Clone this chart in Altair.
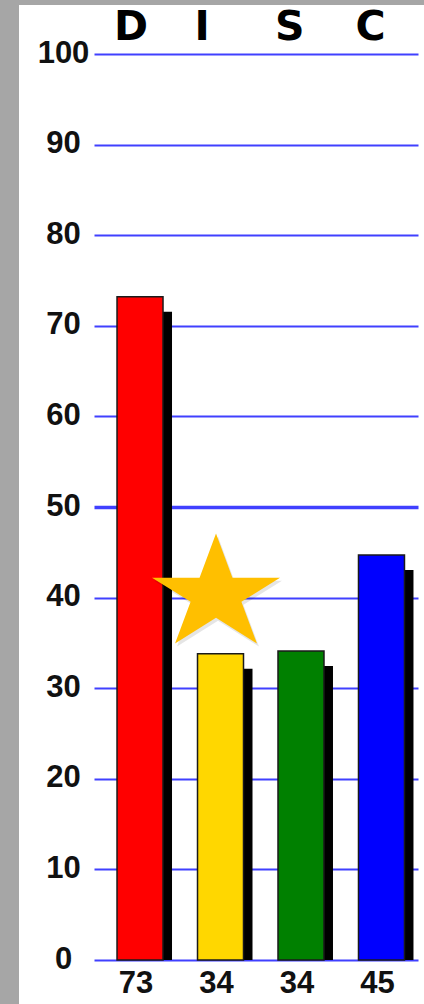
import altair as alt
import pandas as pd

# ---- data ----
categories = ["D", "I", "S", "C"]
bar_values = [73.2, 33.8, 34.1, 44.7]
bar_labels = ["73", "34", "34", "45"]
bar_colors = ["#ff0000", "#ffd700", "#008000", "#0000ff"]
grid_ticks = [0, 10, 20, 30, 40, 50, 60, 70, 80, 90, 100]
star_category = ["I"]
star_value = [41.0]

W, H = 324, 906

df = pd.DataFrame({"cat": categories, "value": bar_values, "label": bar_labels})
star_df = pd.DataFrame({"cat": star_category, "value": star_value})
one = pd.DataFrame({"a": [0]})

xscale = alt.Scale(domain=categories, paddingInner=0.4286, paddingOuter=0.227, align=0.63)
X = alt.X("cat:N", scale=xscale, axis=None, sort=categories)
Y = alt.Y(
    "value:Q",
    scale=alt.Scale(domain=[0, 100], nice=False),
    axis=alt.Axis(
        values=grid_ticks,
        grid=True,
        gridColor="#4040ff",
        gridWidth=alt.condition("datum.value == 50", alt.value(3.5), alt.value(2)),
        domain=False,
        ticks=False,
        tickSize=0,
        labelAlign="center",
        labelBaseline="middle",
        labelPadding=31,
        labelOffset=-1,
        labelFont="Liberation Sans",
        labelFontSize=31,
        labelFontWeight="bold",
        labelColor="#111111",
        title=None,
    ),
)

# grey frame strips (left and top)
frame_left = alt.Chart(one).mark_rect(color="#a6a6a6").encode(
    x=alt.value(-94), x2=alt.value(-75), y=alt.value(-54), y2=alt.value(H + 44)
)
frame_top = alt.Chart(one).mark_rect(color="#a6a6a6").encode(
    x=alt.value(-94), x2=alt.value(W + 6), y=alt.value(-54), y2=alt.value(-49)
)

shadow = alt.Chart(df).mark_bar(
    color="#000000", xOffset=9, yOffset=15, clip=True
).encode(x=X, y=Y)

bars = alt.Chart(df).mark_bar(stroke="#1a1a1a", strokeWidth=1.5).encode(
    x=X,
    y=Y,
    color=alt.Color("cat:N", scale=alt.Scale(domain=categories, range=bar_colors), legend=None),
)

star_path = (
    "M0,-0.86 L0.257,-0.17 L1,-0.17 L0.397,0.208 L0.64,0.86 L0,0.458 "
    "L-0.64,0.86 L-0.397,0.208 L-1,-0.17 L-0.257,-0.17 Z"
)
star_shadow = alt.Chart(star_df).mark_point(
    shape=star_path, size=16384, filled=True, fill="#000000", opacity=0.1,
    strokeWidth=0, xOffset=-2.5, yOffset=3,
).encode(x=X, y=alt.Y("value:Q"))
star = alt.Chart(star_df).mark_point(
    shape=star_path, size=16384, filled=True, fill="#ffbf00", opacity=1,
    strokeWidth=0, xOffset=-4.5,
).encode(x=X, y=alt.Y("value:Q"))

top_text = alt.Chart(df).mark_text(
    align="left", baseline="middle", font="DejaVu Sans", fontSize=41,
    fontWeight="bold", color="#000000", dx=-3,
).encode(
    x=alt.X("cat:N", scale=xscale, axis=None, sort=categories, bandPosition=0),
    y=alt.value(-26),
    text="cat:N",
)

bottom_text = alt.Chart(df).mark_text(
    align="center", baseline="middle", font="Liberation Sans", fontSize=31,
    fontWeight="bold", color="#111111", dx=-4,
).encode(x=X, y=alt.value(H + 24), text="label:N")

chart = (
    alt.layer(frame_left, frame_top, shadow, bars, star_shadow, star, top_text, bottom_text)
    .properties(
        width=W,
        height=H,
        autosize=alt.AutoSizeParams(type="none"),
        padding={"left": 94, "top": 54, "right": 6, "bottom": 44},
        background="white",
    )
    .configure_view(stroke=None)
)

chart.save("out.html", embed_options={"renderer": "svg", "actions": False})
